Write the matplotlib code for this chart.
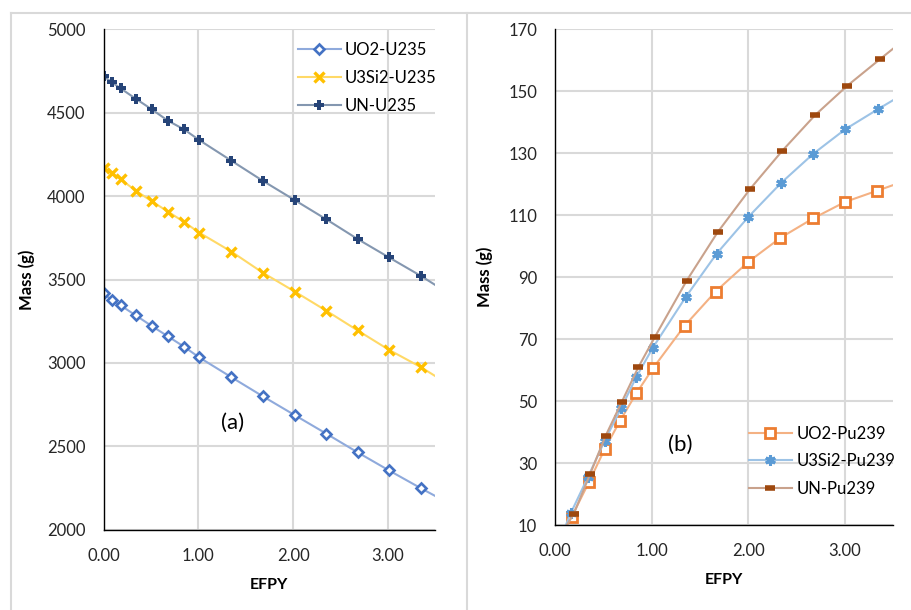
#!/usr/bin/env python3
import matplotlib
matplotlib.use("Agg")
import matplotlib.pyplot as plt
from matplotlib.lines import Line2D
from matplotlib.ticker import FormatStrFormatter, MultipleLocator

plt.rcParams['font.family'] = ['Lato', 'DejaVu Sans']

# panel (a): U235 mass, shared EFPY steps (last point lies past the axis edge)
efpy_a = [0.0, 0.09, 0.18, 0.34, 0.51, 0.68, 0.85, 1.01, 1.35, 1.68, 2.02, 2.35, 2.68, 3.01, 3.35, 3.69]
uo2_u235 = [3417, 3375, 3345, 3285, 3221, 3159, 3097, 3033, 2914, 2800, 2686, 2576, 2464, 2356, 2248, 2144]
u3si2_u235 = [4167, 4137, 4101, 4033, 3969, 3907, 3845, 3781, 3667, 3541, 3427, 3313, 3195, 3079, 2974, 2854]
un_u235 = [4720, 4682, 4646, 4584, 4520, 4452, 4400, 4336, 4212, 4092, 3975, 3861, 3743, 3633, 3521, 3399]

# panel (b): Pu239 mass (first and last points lie outside the plot area)
efpy_uo2 = [0.09, 0.17, 0.35, 0.51, 0.67, 0.84, 1.01, 1.34, 1.66, 2.00, 2.33, 2.67, 3.00, 3.33, 3.67]
uo2_pu239 = [8.0, 12.8, 24.0, 34.5, 43.7, 52.6, 60.6, 74.4, 85.4, 95.0, 102.7, 109.0, 114.3, 117.9, 121.6]
efpy_u3si2 = [0.09, 0.16, 0.34, 0.51, 0.68, 0.84, 1.01, 1.35, 1.67, 2.00, 2.34, 2.67, 3.00, 3.34, 3.68]
u3si2_pu239 = [8.6, 13.9, 25.7, 37.2, 47.7, 57.9, 67.3, 83.6, 97.6, 109.5, 120.5, 129.8, 137.7, 144.2, 150.5]
efpy_un = [0.09, 0.19, 0.36, 0.52, 0.69, 0.86, 1.03, 1.36, 1.68, 2.02, 2.35, 2.69, 3.02, 3.36, 3.70]
un_pu239 = [8.6, 13.6, 26.5, 38.8, 49.9, 61.0, 70.7, 88.9, 104.5, 118.6, 130.8, 142.3, 151.7, 160.3, 168.8]

yticks_a = [2000, 2500, 3000, 3500, 4000, 4500, 5000]
yticks_b = [10, 30, 50, 70, 90, 110, 130, 150, 170]

GRID = "#D9D9D9"

fig = plt.figure(figsize=(9.12, 6.10), dpi=100)

# chart frames
W, H = 912.0, 610.0
frame = dict(color=GRID, lw=1.5, transform=fig.transFigure)
fig.add_artist(Line2D([11 / W, 11 / W], [0, 1 - 12.7 / H], **frame))
fig.add_artist(Line2D([11 / W, 1], [1 - 12.7 / H, 1 - 12.7 / H], **frame))
fig.add_artist(Line2D([467.5 / W, 467.5 / W], [0, 1 - 12.7 / H], **frame))

ax1 = fig.add_axes([0.1135, 0.1316, 0.3638, 0.8203])
ax2 = fig.add_axes([0.6089, 0.1389, 0.3706, 0.8131])


def style_axis(ax):
        ax.grid(True, color=GRID, lw=1.5)
        ax.set_axisbelow(True)
        for s in ["top", "right"]:
                ax.spines[s].set_visible(False)
        for s in ["left", "bottom"]:
                ax.spines[s].set_color("black")
                ax.spines[s].set_linewidth(1.0)
        ax.tick_params(length=0, labelsize=12, colors="#262626")
        ax.tick_params(axis="y", pad=13)
        ax.tick_params(axis="x", pad=13)
        ax.xaxis.set_major_locator(MultipleLocator(1))
        ax.xaxis.set_major_formatter(FormatStrFormatter("%.2f"))
        ax.set_xlim(0, 3.5)
        ax.set_xlabel("EFPY", fontsize=11.5, fontweight="bold", va="center")
        ax.set_ylabel("Mass (g)", fontsize=12, fontweight="bold", va="center")


# ---- (a)
ax1.plot(efpy_a, uo2_u235, color="#8FAADC", lw=1.5, marker="D", ms=5.5, mfc="white",
         mec="#4472C4", mew=1.9, markevery=slice(0, -1), label="UO2-U235")
ax1.plot(efpy_a, u3si2_u235, color="#FFD966", lw=1.5, marker="x", ms=6.5,
         mec="#FFC000", mew=2.4, markevery=slice(0, -1), label="U3Si2-U235")
ax1.plot(efpy_a, un_u235, color="#8497B0", lw=1.5, marker="P", ms=7,
         mfc="#264478", mec="#264478", mew=0, markevery=slice(0, -1), label="UN-U235")
style_axis(ax1)
ax1.set_ylim(2000, 5000)
ax1.set_yticks(yticks_a)
ax1.yaxis.set_label_coords(-0.2315, 0.5)
ax1.xaxis.set_label_coords(0.5, -0.1105)
ax1.text(1.36, 2638, "(a)", fontsize=16, ha="center", va="center")
ax1.legend(loc="center left", bbox_to_anchor=(0.585, 0.903), frameon=False,
           fontsize=12, borderaxespad=0, borderpad=0, handlelength=2.6,
           handletextpad=0.25, labelspacing=0.7)

# ---- (b)
ax2.plot(efpy_uo2, uo2_pu239, color="#F4B183", lw=1.5, marker="s", ms=7.5, mfc="white",
         mec="#ED7D31", mew=2.0, markevery=slice(1, -1), label="UO2-Pu239")
ax2.plot(efpy_u3si2, u3si2_pu239, color="#9DC3E6", lw=1.5, marker=(6, 2, 0), ms=7.5,
         mec="#5B9BD5", mew=2.2, markevery=slice(1, -1), label="U3Si2-Pu239")
ax2.plot(efpy_un, un_pu239, color="#C9A28C", lw=1.5, marker="_", ms=7,
         mec="#9E480E", mew=4, markevery=slice(1, -1), label="UN-Pu239")
style_axis(ax2)
ax2.set_ylim(10, 170)
ax2.set_yticks(yticks_b)
ax2.yaxis.set_label_coords(-0.208, 0.5)
ax2.xaxis.set_label_coords(0.5, -0.110)
ax2.text(1.29, 35.9, "(b)", fontsize=16, ha="center", va="center")
ax2.legend(loc="center left", bbox_to_anchor=(0.572, 0.129), frameon=False,
           fontsize=12, borderaxespad=0, borderpad=0, handlelength=2.6,
           handletextpad=0.25, labelspacing=0.7)

fig.savefig("out.png", dpi=100)
